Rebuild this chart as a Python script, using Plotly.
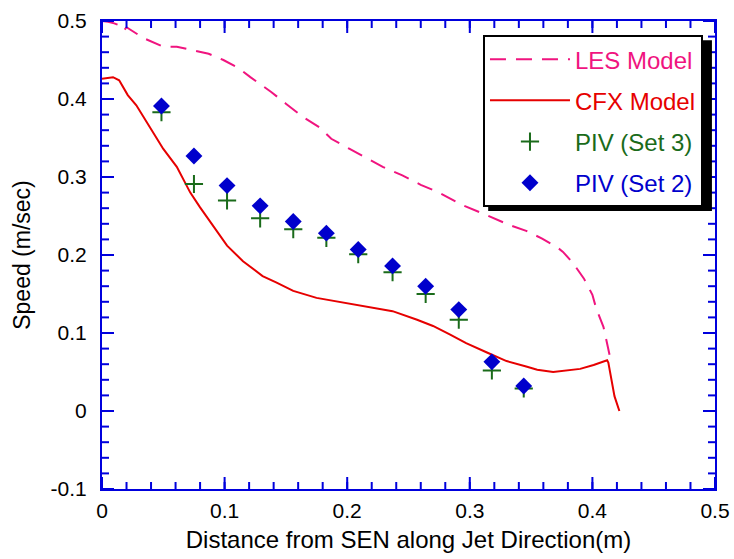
import plotly.graph_objects as go

# LES Model (dashed)
les_x = [0.0, 0.005, 0.01, 0.015, 0.018, 0.02, 0.034, 0.044, 0.05, 0.061, 0.072, 0.087, 0.099,
         0.112, 0.121, 0.138, 0.150, 0.164, 0.178, 0.187, 0.202, 0.216, 0.229, 0.245, 0.26,
         0.275, 0.294, 0.314, 0.333, 0.346, 0.359, 0.372, 0.376, 0.384, 0.393, 0.400, 0.403,
         0.409, 0.414]
les_y = [0.5, 0.499, 0.497, 0.494, 0.488, 0.492, 0.478, 0.471, 0.467, 0.467, 0.463, 0.458, 0.450,
         0.439, 0.428, 0.409, 0.394, 0.377, 0.363, 0.349, 0.336, 0.324, 0.313, 0.302, 0.290,
         0.280, 0.264, 0.251, 0.238, 0.231, 0.221, 0.209, 0.204, 0.190, 0.170, 0.149, 0.132,
         0.108, 0.072]

# CFX Model (solid)
cfx_x = [0.0, 0.009, 0.014, 0.021, 0.028, 0.036, 0.043, 0.050, 0.061, 0.072, 0.080, 0.091,
         0.102, 0.115, 0.131, 0.142, 0.156, 0.175, 0.197, 0.216, 0.237, 0.257, 0.270, 0.284,
         0.297, 0.314, 0.330, 0.346, 0.355, 0.368, 0.379, 0.390, 0.401, 0.412, 0.413, 0.415,
         0.418, 0.422]
cfx_y = [0.426, 0.428, 0.424, 0.405, 0.392, 0.371, 0.353, 0.336, 0.313, 0.280, 0.261, 0.237,
         0.212, 0.192, 0.173, 0.165, 0.154, 0.145, 0.139, 0.134, 0.128, 0.117, 0.109, 0.098,
         0.087, 0.075, 0.064, 0.057, 0.053, 0.050, 0.052, 0.054, 0.059, 0.065, 0.062, 0.044,
         0.019, 0.0]

# PIV measurements
piv_x = [0.0485, 0.075, 0.102, 0.129, 0.156, 0.183, 0.209, 0.237, 0.264, 0.291, 0.318, 0.344]
piv3_y = [0.383, 0.291, 0.270, 0.247, 0.233, 0.222, 0.201, 0.178, 0.150, 0.117, 0.052, 0.029]
piv2_y = [0.391, 0.327, 0.289, 0.263, 0.243, 0.228, 0.207, 0.186, 0.160, 0.130, 0.063, 0.032]

x_range = [0, 0.5]
y_range = [-0.1, 0.5]
x_ticks = [0, 0.1, 0.2, 0.3, 0.4, 0.5]
x_ticktext = ["0", "0.1", "0.2", "0.3", "0.4", "0.5"]
y_ticks = [-0.1, 0, 0.1, 0.2, 0.3, 0.4, 0.5]
y_ticktext = ["-0.1", "0", "0.1", "0.2", "0.3", "0.4", "0.5"]
x_minor = [round(i * 0.02, 2) for i in range(26)]
y_minor = [round(-0.1 + i * 0.02, 2) for i in range(31)]

C_LES = "#F0147F"
C_CFX = "#E60000"
C_P3 = "#1A6B1A"
C_P2 = "#0000CC"
AX = "#0000DD"
FONT = "Liberation Sans, Arial, sans-serif"

fig = go.Figure()
fig.add_trace(go.Scatter(x=les_x, y=les_y, mode="lines", legendgroup="a",
                         name=f'<span style="color:{C_LES}">LES Model</span>',
                         line=dict(color=C_LES, width=2, dash="16px,10px")))
fig.add_trace(go.Scatter(x=cfx_x, y=cfx_y, mode="lines", legendgroup="b",
                         name=f'<span style="color:{C_CFX}">CFX Model</span>',
                         line=dict(color=C_CFX, width=2)))
fig.add_trace(go.Scatter(x=piv_x, y=piv3_y, mode="markers", legendgroup="c",
                         name=f'<span style="color:{C_P3}">PIV (Set 3)</span>',
                         marker=dict(symbol="cross-thin", size=13, line=dict(color=C_P3, width=2))))
fig.add_trace(go.Scatter(x=piv_x, y=piv2_y, mode="markers", legendgroup="d",
                         name=f'<span style="color:{C_P2}">PIV (Set 2)</span>',
                         marker=dict(symbol="diamond", size=13, color=C_P2)))

axis_common = dict(showline=True, linecolor=AX, linewidth=2, mirror=True,
                   ticks="", showgrid=False, zeroline=False, automargin=False,
                   tickfont=dict(family=FONT, size=21, color="black"))

fig.update_xaxes(range=x_range, tickmode="array", tickvals=x_ticks, ticktext=x_ticktext,
                 title=dict(text="Distance from SEN along Jet Direction(m)",
                            font=dict(family=FONT, size=24, color="black"), standoff=10),
                 ticklabelstandoff=2, **axis_common)
fig.update_yaxes(range=y_range, tickmode="array", tickvals=y_ticks, ticktext=y_ticktext,
                 title=dict(text="Speed (m/sec)", font=dict(family=FONT, size=23, color="black"), standoff=14),
                 ticklabelstandoff=9, **axis_common)

# Inward tick marks on all four frame edges (positions from the tick lists,
# placed through the axis scales; lengths in pixels).
tick_line = dict(color=AX, width=2)
for vals, tlen in [(x_minor, 7), (x_ticks, 12)]:
    for xv in vals:
        fig.add_shape(type="line", xref="x", yref="paper", ysizemode="pixel", yanchor=0,
                      x0=xv, x1=xv, y0=0, y1=tlen, line=tick_line, layer="above")
        fig.add_shape(type="line", xref="x", yref="paper", ysizemode="pixel", yanchor=1,
                      x0=xv, x1=xv, y0=0, y1=-tlen, line=tick_line, layer="above")
for vals, tlen in [(y_minor, 7), (y_ticks, 12)]:
    for yv in vals:
        fig.add_shape(type="line", yref="y", xref="paper", xsizemode="pixel", xanchor=0,
                      y0=yv, y1=yv, x0=0, x1=tlen, line=tick_line, layer="above")
        fig.add_shape(type="line", yref="y", xref="paper", xsizemode="pixel", xanchor=1,
                      y0=yv, y1=yv, x0=0, x1=-tlen, line=tick_line, layer="above")

# legend shadow
fig.add_shape(type="rect", xref="paper", yref="paper", x0=0.63, x1=0.995, y0=0.594, y1=0.959,
              fillcolor="black", line=dict(width=0), layer="above")

fig.update_layout(
    width=734, height=559,
    margin=dict(l=102, r=19, t=21, b=70),
    paper_bgcolor="white", plot_bgcolor="white",
    font=dict(family=FONT, size=24, color="black"),
    legend=dict(x=0.6215, y=0.97, xanchor="left", yanchor="top",
                bgcolor="white", bordercolor="black", borderwidth=2,
                font=dict(family=FONT, size=24), itemwidth=80,
                traceorder="grouped", tracegroupgap=7),
)

fig.write_html("out.html")
